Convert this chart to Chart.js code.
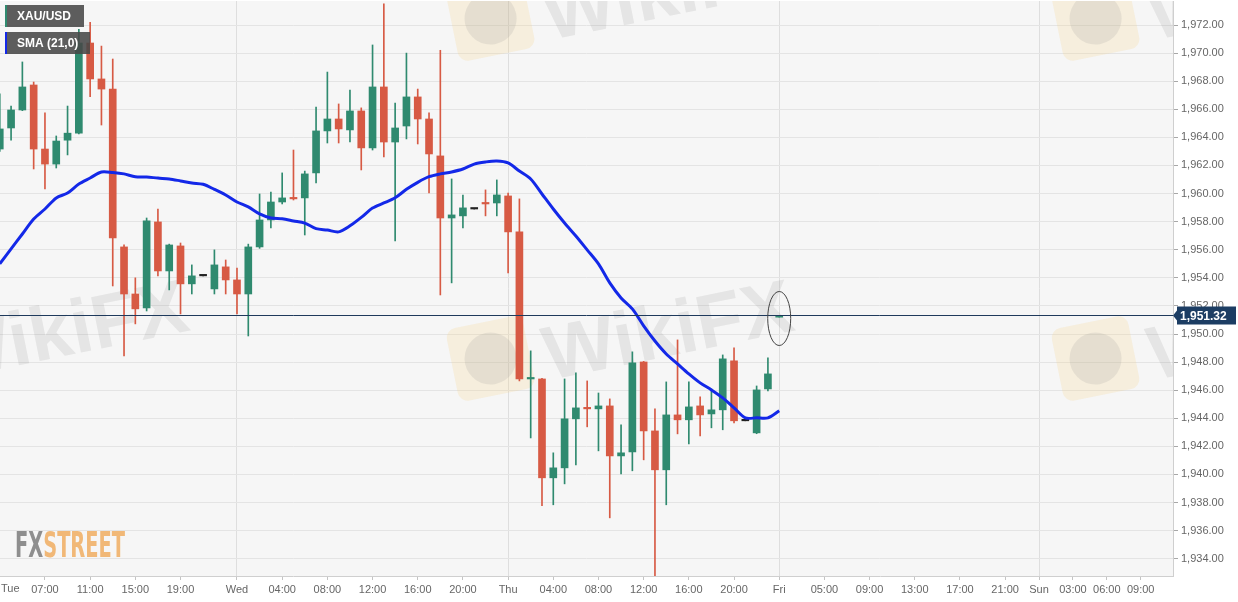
<!DOCTYPE html>
<html>
<head>
<meta charset="utf-8">
<style>
  html, body { margin: 0; padding: 0; background: #fff; }
</style>
<script src="https://cdn.jsdelivr.net/npm/chart.js@4.4.1/dist/chart.umd.min.js"></script>
</head>
<body>
<canvas id="myChart" width="1238" height="602"></canvas>
<script>
// hourly candles, x = trading hours counted from Tue 00:00
const hours = [3, 4, 5, 6, 7, 8, 9, 10, 11, 12, 13, 14, 15, 16, 17, 18, 19, 20, 21, 22,
    23, 24, 25, 26, 27, 28, 29, 30, 31, 32, 33, 34, 35, 36, 37, 38, 39, 40, 41, 42,
    43, 44, 45, 46, 47, 48, 49, 50, 51, 52, 53, 54, 55, 56, 57, 58, 59, 60, 61, 62,
    63, 64, 65, 66, 67, 68, 69, 70, 71, 72];
const opens = [1963.17, 1964.67, 1965.95, 1967.73, 1963.17, 1962.10, 1963.80, 1964.30, 1970.72, 1968.16,
    1967.44, 1956.20, 1952.85, 1951.86, 1957.98, 1954.49, 1956.27, 1953.57, 1954.14, 1953.21,
    1954.78, 1953.85, 1952.85, 1956.20, 1958.12, 1959.40, 1959.69, 1959.69, 1961.47, 1964.46,
    1965.31, 1964.53, 1965.88, 1963.25, 1967.59, 1963.67, 1964.81, 1966.88, 1965.31, 1962.68,
    1958.26, 1958.41, 1958.90, 1959.33, 1959.33, 1959.83, 1957.27, 1946.80, 1946.80, 1939.76,
    1940.47, 1943.96, 1944.74, 1944.67, 1944.88, 1941.32, 1941.61, 1948.01, 1943.10, 1940.33,
    1944.24, 1943.89, 1944.88, 1944.31, 1944.60, 1948.09, 1943.82, 1942.96, 1946.09, 1951.20];
const highs = [1967.10, 1966.23, 1969.37, 1967.94, 1965.74, 1964.10, 1966.23, 1971.70, 1972.20, 1970.50,
    1969.58, 1956.35, 1954.00, 1958.26, 1958.90, 1956.40, 1956.48, 1954.92, 1954.14, 1955.99,
    1955.27, 1954.70, 1956.40, 1959.97, 1960.11, 1961.47, 1963.10, 1961.60, 1966.16, 1968.65,
    1966.38, 1967.37, 1966.10, 1970.58, 1973.50, 1966.45, 1970.00, 1967.44, 1965.74, 1970.20,
    1961.04, 1959.90, 1958.90, 1960.26, 1960.97, 1960.04, 1959.62, 1948.80, 1946.85, 1941.54,
    1946.80, 1947.23, 1946.66, 1945.80, 1945.38, 1943.53, 1948.73, 1948.05, 1944.67, 1946.59,
    1949.58, 1946.59, 1945.52, 1946.09, 1948.51, 1949.01, 1943.82, 1946.30, 1948.30, 1951.32];
const lows = [1963.00, 1963.80, 1965.90, 1961.75, 1960.33, 1961.82, 1962.75, 1964.25, 1966.90, 1964.88,
    1953.42, 1948.44, 1950.72, 1951.64, 1954.14, 1953.14, 1951.43, 1952.85, 1954.14, 1952.85,
    1952.85, 1951.43, 1949.86, 1956.10, 1957.55, 1959.26, 1959.54, 1957.05, 1960.75, 1963.60,
    1963.60, 1963.67, 1961.68, 1963.10, 1962.60, 1956.63, 1963.89, 1963.53, 1960.04, 1952.78,
    1953.64, 1957.55, 1958.90, 1958.41, 1958.41, 1954.35, 1946.66, 1942.60, 1937.77, 1937.84,
    1939.33, 1940.68, 1943.39, 1941.68, 1936.91, 1940.04, 1940.26, 1941.04, 1932.78, 1937.84,
    1942.89, 1942.18, 1942.75, 1943.32, 1943.18, 1943.67, 1943.82, 1942.90, 1945.95, 1951.20];
const closes = [1964.60, 1965.95, 1967.59, 1963.17, 1962.10, 1963.74, 1964.30, 1970.72, 1968.16, 1967.44,
    1956.84, 1952.85, 1951.79, 1958.05, 1954.49, 1956.34, 1953.57, 1954.14, 1954.14, 1954.92,
    1953.85, 1952.85, 1956.20, 1958.12, 1959.40, 1959.69, 1959.62, 1961.40, 1964.46, 1965.31,
    1964.60, 1965.88, 1963.25, 1967.59, 1963.67, 1964.67, 1966.88, 1965.31, 1962.82, 1958.26,
    1958.48, 1958.98, 1958.90, 1959.26, 1959.90, 1957.27, 1946.80, 1946.88, 1939.76, 1940.47,
    1943.96, 1944.74, 1944.67, 1944.88, 1941.32, 1941.54, 1947.94, 1943.10, 1940.33, 1944.24,
    1943.89, 1944.81, 1944.24, 1944.60, 1948.23, 1943.82, 1943.82, 1946.02, 1947.16, 1951.32];
const sma = [1954.99, 1956.06, 1957.12, 1958.19, 1958.90, 1959.69, 1960.04, 1960.68, 1961.11, 1961.54,
    1961.50, 1961.40, 1961.20, 1961.18, 1961.10, 1961.04, 1960.90, 1960.75, 1960.66, 1960.30,
    1959.90, 1959.40, 1959.05, 1958.55, 1958.26, 1958.20, 1958.05, 1957.90, 1957.50, 1957.40,
    1957.27, 1957.70, 1958.30, 1958.97, 1959.33, 1959.70, 1960.30, 1960.80, 1961.20, 1961.40,
    1961.54, 1961.75, 1962.10, 1962.25, 1962.32, 1962.18, 1961.60, 1961.04, 1959.97, 1958.90,
    1957.90, 1956.98, 1955.99, 1954.99, 1953.64, 1952.57, 1951.79, 1950.58, 1949.50, 1948.58,
    1947.87, 1947.16, 1946.52, 1946.02, 1945.45, 1944.74, 1944.03, 1944.03, 1944.03, 1944.53];
const lastPrice = 1951.32;

const xTickHours = [7, 11, 15, 19, 24, 28, 32, 36, 40, 44, 48, 52, 56, 60, 64, 68, 72,
    76, 80, 84, 88, 92, 95, 98, 101, 104];
const xTickLabels = ['07:00', '11:00', '15:00', '19:00', 'Wed', '04:00', '08:00', '12:00', '16:00', '20:00',
    'Thu', '04:00', '08:00', '12:00', '16:00', '20:00', 'Fri', '05:00', '09:00', '13:00', '17:00', '21:00',
    'Sun', '03:00', '06:00', '09:00'];
const dayHours = [24, 48, 72, 95];
const yTicks = [1934, 1936, 1938, 1940, 1942, 1944, 1946, 1948, 1950, 1952,
    1954, 1956, 1958, 1960, 1962, 1964, 1966, 1968, 1970, 1972];

const GREEN = '#2f8a6f';
const RED = '#d75a44';
const BLUE = '#1328e8';
const FONT = '"Liberation Sans", Arial, sans-serif';

function candleColor(i) {
    if (opens[i] === closes[i]) return '#222';
    return closes[i] > opens[i] ? GREEN : RED;
}

function fmt(v) {
    return v.toLocaleString('en-US', { minimumFractionDigits: 2, maximumFractionDigits: 2 });
}

function watermark(ctx, x, y) {
    ctx.save();
    ctx.translate(x, y);
    ctx.rotate(-0.2);
    ctx.fillStyle = 'rgba(245, 210, 130, 0.22)';
    ctx.beginPath();
    ctx.roundRect(0, 0, 78, 74, 10);
    ctx.fill();
    ctx.fillStyle = 'rgba(140, 140, 140, 0.16)';
    ctx.beginPath();
    ctx.arc(39, 37, 26, 0, Math.PI * 2);
    ctx.fill();
    ctx.font = 'bold 76px ' + FONT;
    ctx.fillStyle = 'rgba(110, 110, 110, 0.12)';
    ctx.textBaseline = 'alphabetic';
    ctx.fillText('WikiFX', 92, 70);
    ctx.restore();
}

const decoPlugin = {
    id: 'deco',
    beforeDraw(chart) {
        const { ctx, chartArea: a } = chart;
        ctx.save();
        ctx.fillStyle = '#ffffff';
        ctx.fillRect(0, 0, chart.width, chart.height);
        ctx.fillStyle = '#f6f6f6';
        ctx.fillRect(a.left, a.top, a.right - a.left, a.bottom - a.top);
        ctx.restore();
    },
    beforeDatasetsDraw(chart) {
        const { ctx, chartArea: a } = chart;
        ctx.save();
        ctx.beginPath();
        ctx.rect(a.left, a.top, a.right - a.left, a.bottom - a.top);
        ctx.clip();
        [[445, -10], [1050, -10], [-160, 330], [445, 330], [1050, 330]].forEach(p => watermark(ctx, p[0], p[1]));

        // FXSTREET logo
        ctx.font = 'bold 36px "DejaVu Sans Condensed", ' + FONT;
        ctx.textBaseline = 'alphabetic';
        const wFx = ctx.measureText('FX').width;
        const wAll = ctx.measureText('FXSTREET').width;
        const sx = 110 / wAll;
        ctx.translate(15, 557);
        ctx.scale(sx, 1);
        ctx.fillStyle = '#8e8e8e';
        ctx.fillText('FX', 0, 0);
        ctx.fillStyle = '#f1b877';
        ctx.fillText('STREET', wFx, 0);
        ctx.restore();
    },
    afterDatasetsDraw(chart) {
        const { ctx, chartArea: a, scales } = chart;
        const py = Math.round(scales.y.getPixelForValue(lastPrice)) + 0.5;
        ctx.save();
        ctx.strokeStyle = '#1f3a5c';
        ctx.lineWidth = 1;
        ctx.beginPath();
        ctx.moveTo(a.left, py);
        ctx.lineTo(a.right, py);
        ctx.stroke();

        // circled last candle
        const cx = scales.x.getPixelForValue(hours[hours.length - 1]);
        ctx.strokeStyle = '#444';
        ctx.beginPath();
        ctx.ellipse(cx, py + 3, 11.5, 27, 0, 0, Math.PI * 2);
        ctx.stroke();

        // price tag on the axis
        ctx.fillStyle = '#1c3d63';
        ctx.beginPath();
        ctx.moveTo(a.right, py);
        ctx.lineTo(a.right + 4, py - 5);
        ctx.lineTo(a.right + 4, py - 9);
        ctx.lineTo(a.right + 63, py - 9);
        ctx.lineTo(a.right + 63, py + 9);
        ctx.lineTo(a.right + 4, py + 9);
        ctx.lineTo(a.right + 4, py + 5);
        ctx.closePath();
        ctx.fill();
        ctx.fillStyle = '#fff';
        ctx.font = 'bold 12px ' + FONT;
        ctx.textBaseline = 'middle';
        ctx.textAlign = 'left';
        ctx.fillText(fmt(lastPrice), a.right + 7, py + 1);
        ctx.restore();
    },
    afterDraw(chart) {
        const { ctx, chartArea: a, scales } = chart;
        ctx.save();
        // legend boxes
        ctx.fillStyle = 'rgba(72, 72, 72, 0.88)';
        ctx.fillRect(5, 5, 79, 22);
        ctx.fillRect(5, 32, 85, 22);
        ctx.fillStyle = GREEN;
        ctx.fillRect(5, 5, 2, 22);
        ctx.fillStyle = BLUE;
        ctx.fillRect(5, 32, 2, 22);
        ctx.fillStyle = '#fff';
        ctx.font = 'bold 12px ' + FONT;
        ctx.textBaseline = 'middle';
        ctx.fillText('XAU/USD', 17, 17);
        ctx.fillText('SMA (21,0)', 17, 44);

        // first day label sits on the left edge
        ctx.fillStyle = '#666';
        ctx.font = '11px ' + FONT;
        ctx.textAlign = 'left';
        ctx.fillText('Tue', a.left + 1, scales.x.top + 13);
        ctx.restore();
    }
};

const ctx = document.getElementById('myChart').getContext('2d');

new Chart(ctx, {
    type: 'bar',
    data: {
        datasets: [{
            type: 'line',
            label: 'SMA (21,0)',
            data: hours.map((h, i) => ({ x: h, y: sma[i] })),
            borderColor: BLUE,
            borderWidth: 3,
            pointRadius: 0,
            tension: 0.3,
            order: 0
        }, {
            label: 'body',
            data: hours.map((h, i) => ({ x: h, y: [opens[i], closes[i]] })),
            backgroundColor: (c) => candleColor(c.dataIndex),
            barThickness: 7,
            minBarLength: 1.5,
            grouped: false,
            order: 1
        }, {
            label: 'wick',
            data: hours.map((h, i) => ({ x: h, y: [lows[i], highs[i]] })),
            backgroundColor: (c) => candleColor(c.dataIndex),
            barThickness: 1,
            grouped: false,
            order: 2
        }]
    },
    options: {
        responsive: false,
        animation: false,
        layout: { padding: { top: 1, left: 0, right: 0, bottom: 0 } },
        plugins: {
            legend: { display: false },
            tooltip: { enabled: false }
        },
        scales: {
            x: {
                type: 'linear',
                min: 3.02,
                max: 106.86,
                offset: false,
                afterBuildTicks: (s) => { s.ticks = xTickHours.map(v => ({ value: v })); },
                afterFit: (s) => { s.height = 26; s.paddingLeft = 0; s.paddingRight = 0; },
                border: { color: '#cfcfcf' },
                grid: {
                    offset: false,
                    color: (c) => (c.tick && dayHours.includes(c.tick.value)) ? '#dedede' : 'rgba(0,0,0,0)',
                    tickColor: '#c4c4c4',
                    tickLength: 4
                },
                ticks: {
                    autoSkip: false,
                    maxRotation: 0,
                    padding: 3,
                    color: '#666',
                    font: { family: FONT, size: 11 },
                    callback: (v) => xTickLabels[xTickHours.indexOf(v)]
                }
            },
            y: {
                position: 'right',
                min: 1932.77,
                max: 1973.71,
                afterBuildTicks: (s) => { s.ticks = yTicks.map(v => ({ value: v })); },
                afterFit: (s) => { s.width = 65; s.paddingTop = 0; s.paddingBottom = 0; },
                border: { color: '#cfcfcf' },
                grid: {
                    color: '#e4e4e4',
                    tickColor: '#a8a8a8',
                    tickLength: 5
                },
                ticks: {
                    padding: 3,
                    color: '#666',
                    font: { family: FONT, size: 11 },
                    callback: (v) => fmt(v)
                }
            }
        }
    },
    plugins: [decoPlugin]
});
</script>
</body>
</html>
